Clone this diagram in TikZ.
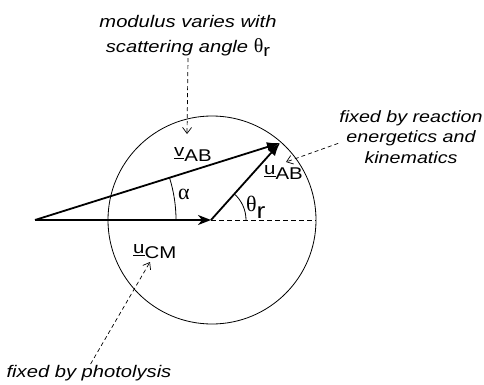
\documentclass[tikz,border=0pt]{standalone}
\usepackage{fontspec}
\usepackage{tikz}
\usetikzlibrary{arrows.meta}
\newfontfamily\notefont[FakeStretch=1.2]{Liberation Sans}
\newfontfamily\grkfont{Liberation Serif}
\newcommand\veclbl[2]{\leavevmode\vtop{\hbox{#1}\kern2pt\hrule height1.3pt}\raisebox{-5pt}{#2}}

\begin{document}
\begin{tikzpicture}[x=1pt,y=-1pt,
vect/.style={line width=1.8pt},
nota/.style={font=\notefont\itshape\fontsize{16.8}{20.5}\selectfont,align=center,inner sep=1pt},
lbl/.style={font=\notefont\fontsize{17}{18}\selectfont,inner sep=0pt},
grk/.style={font=\grkfont\fontsize{22}{22}\selectfont,inner sep=0pt},
guia/.style={dash pattern=on 4pt off 3pt,line width=0.7pt,-{Straight Barb[length=6pt,width=9pt]}}
]
\useasboundingbox (0,0) rectangle (484,385);

\node[circle,draw,line width=0.8pt,minimum size=208pt,inner sep=0pt] (esfera) at (212,220) {};
\coordinate (O) at (35,220);
\coordinate (C) at (211,220);
\coordinate (P) at (280,143);

\draw[vect,-{Stealth[length=13pt,width=10pt,inset=4pt]}] (O) -- (C);
\draw[vect,-{Latex[length=13pt,width=10pt]}] (O) -- (P);
\draw[vect,-{Latex[length=13pt,width=10pt]}] (C) -- (P);
\draw[dash pattern=on 5pt off 3pt,line width=0.7pt] (C) -- (esfera.east);
\draw[line width=0.8pt] ([shift={(0:141pt)}]O) arc[start angle=0,end angle=17.4,radius=141pt];
\draw[line width=0.8pt] ([shift={(0:35pt)}]C) arc[start angle=0,end angle=48.5,radius=35pt];

\node[lbl,anchor=base west] (vab) at (174,156) {\veclbl{v}{AB}};
\node[lbl,anchor=base west] (uab) at (264,174) {\veclbl{u}{AB}};
\node[lbl,anchor=base west] (ucm) at (133,253) {\veclbl{u}{CM}};
\node[grk] (alfa) at (184,194) {α};
\node[grk,anchor=base west] (theta) at (246,211) {θ\raisebox{-7pt}{\notefont r}};

\node[nota] (arriba) at (188,36) {modulus varies with\\[5pt]scattering angle {\grkfont\upshape\fontsize{20}{20}\selectfont θ}\raisebox{-4pt}{\upshape r}};
\node[nota,font=\notefont\itshape\fontsize{16.4}{20.5}\selectfont] (derecha) at (411,137) {fixed by reaction\\energetics and\\kinematics};
\node[nota] (abajo) at (89,373) {fixed by photolysis};

\coordinate (pv) at (187,134);
\coordinate (pu) at (286,162);
\coordinate (pc) at (150,262);
\draw[guia] (arriba.south) -- (pv);
\draw[guia] (derecha.185) -- (pu);
\draw[guia] (abajo.80) -- (pc);
\end{tikzpicture}
\end{document}
